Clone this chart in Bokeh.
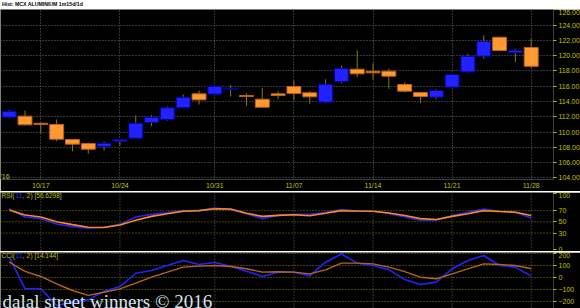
from bokeh.plotting import figure
from bokeh.layouts import column
from bokeh.models import FixedTicker, Label, Span, Range1d, NumeralTickFormatter, ColumnDataSource, Div
from bokeh.embed import file_html
from bokeh.resources import INLINE

# ---------------- data ----------------
dates = ["10/13", "10/14", "10/17", "10/18", "10/19", "10/20", "10/21",
         "10/24", "10/25", "10/26", "10/27", "10/28", "10/30",
         "10/31", "11/01", "11/02", "11/03", "11/04",
         "11/07", "11/08", "11/09", "11/10", "11/11",
         "11/14", "11/15", "11/16", "11/17", "11/18",
         "11/21", "11/22", "11/23", "11/24", "11/25", "11/28"]
opens = [111.95, 112.08, 111.15, 111.00, 109.03, 108.50, 108.12, 108.80, 109.20, 111.25,
         111.65, 113.18, 115.00, 114.95, 115.57, 114.78, 114.30, 115.00, 115.96, 115.14,
         113.91, 116.61, 118.22, 117.96, 117.96, 116.22, 115.18, 114.56, 115.87, 117.87,
         119.92, 122.40, 120.37, 121.06]
highs = [112.90, 112.80, 111.20, 111.65, 109.05, 108.64, 108.77, 109.05, 112.17, 112.20,
         113.35, 114.92, 115.44, 116.05, 116.09, 115.08, 115.74, 115.35, 116.75, 115.35,
         116.90, 118.70, 120.67, 119.00, 118.31, 116.48, 115.25, 115.60, 117.60, 120.23,
         122.63, 122.45, 120.89, 122.20]
lows = [111.80, 110.90, 109.80, 108.80, 107.50, 107.16, 107.60, 108.25, 109.20, 110.77,
        111.50, 113.18, 113.60, 114.90, 114.65, 113.44, 113.20, 114.30, 114.22, 113.70,
        113.78, 116.40, 117.18, 116.84, 115.66, 115.20, 113.78, 114.30, 115.80, 117.80,
        119.58, 120.67, 119.14, 118.35]
closes = [112.73, 110.95, 111.00, 109.07, 108.42, 107.76, 108.55, 109.03, 111.16, 111.95,
          113.18, 114.56, 114.22, 116.00, 115.70, 114.65, 113.25, 114.78, 115.05, 114.61,
          116.26, 118.31, 117.62, 117.75, 117.31, 115.35, 114.65, 115.44, 117.53, 119.92,
          121.84, 120.67, 120.67, 118.60]
rsi_fast = [72.8, 58.5, 55.7, 46.0, 41.4, 38.5, 40.3, 45.4, 58.5, 63.2, 66.6, 70.0,
            70.0, 74.6, 71.7, 64.3, 55.7, 61.4, 63.2, 63.2, 67.1, 71.7, 69.4, 68.9,
            65.0, 58.5, 52.9, 52.9, 61.4, 67.1, 72.8, 68.9, 67.1, 56.6]
rsi_slow = [71.1, 62.0, 58.5, 50.0, 44.9, 40.3, 39.7, 44.3, 52.9, 59.7, 64.3, 68.9,
            70.0, 73.4, 72.8, 65.4, 59.7, 61.4, 62.6, 60.9, 65.4, 70.0, 69.4, 68.9,
            65.7, 61.2, 55.7, 54.0, 59.7, 64.3, 70.0, 68.3, 67.1, 61.4]
cci_fast = [172, -91, -91, -231, -203, -184, -112, -73, 38, 61, 103, 144,
            111, 127, 97, 55, 11, 47, 47, 16, 130, 199, 122, 103,
            68, -15, -56, -36, 75, 144, 186, 103, 89, 14.1]
cci_slow = [130, 53, 11, -50, -106, -147, -120, -92, -45, 5, 47, 89,
            97, 103, 94, 75, 47, 50, 47, 33, 66, 122, 122, 116,
            89, 51, 5, -8, 33, 75, 116, 111, 103, 75]

date_ticks = ["10/17", "10/24", "10/31", "11/07", "11/14", "11/21", "11/28"]
price_ticks = [104, 106, 108, 110, 112, 114, 116, 118, 120, 122, 124, 126]
rsi_ticks = [0, 30, 50, 70, 100]
rsi_levels = [30, 50, 70]
cci_ticks = [-200, -100, 0, 100, 200]

title_text = "Hist: MCX ALUMINIUM 1m15d/1d"
rsi_params = ("11", "2")
rsi_last = "56.6298"
cci_last = "14.144"
last_price = "118.60"
watermark = "dalal street winners \u00a9 2016"

# ---------------- style ----------------
FW = 553
BLUE = "#2222ff"
ORANGE = "#ff9933"
WICK = "#808000"
YEL = "#c0c000"
GRID = "#6a6a6a"
LVL = "#858500"
FONT = "Liberation Sans"

xs = list(range(len(dates)))
tick_idx = [dates.index(d) for d in date_ticks]
xr = Range1d(-0.55, 34.41)

def style_right_axis(f, ticks, fmt=None):
    ax = f.yaxis[0]
    ax.ticker = FixedTicker(ticks=ticks)
    if fmt:
        ax.formatter = NumeralTickFormatter(format=fmt)
    ax.axis_line_color = None
    ax.major_tick_out = 3
    ax.major_tick_in = 0
    ax.minor_tick_line_color = None
    ax.major_tick_line_color = YEL
    ax.major_label_text_color = YEL
    ax.major_label_text_font_size = "7px"
    ax.major_label_text_font = FONT
    ax.major_label_standoff = 2

def make_fig(h, yr, xaxis=False):
    f = figure(frame_width=FW, frame_height=h, x_range=xr, y_range=yr, title=None,
               y_axis_location="right", x_axis_location="below" if xaxis else None,
               toolbar_location=None, output_backend="svg",
               background_fill_color="black", border_fill_color="black",
               outline_line_color=None, min_border=0, min_border_right=27)
    return f

def vlines(f):
    f.xgrid.grid_line_color = None
    for t in tick_idx:
        f.add_layout(Span(location=t, dimension="height", line_color=GRID,
                          line_dash="1 2", line_width=1))

def strip(h, color):
    s = figure(width=580, height=h, toolbar_location=None, output_backend="svg", title=None,
               x_axis_location=None, y_axis_location=None, min_border=0,
               background_fill_color=color, border_fill_color=color,
               outline_line_color=None, x_range=(0, 1), y_range=(0, 1))
    s.grid.grid_line_color = None
    s.quad(left=[0], right=[1], bottom=[0], top=[1], fill_color=color, line_color=None)
    return s

# ---------------- title bar ----------------
tf = Div(text=title_text, width=580, height=8,
         styles={"background-color": "white", "color": "black", "font-size": "5.2px",
                 "line-height": "8px", "font-family": FONT, "font-weight": "bold",
                 "text-indent": "2px", "overflow": "hidden", "white-space": "nowrap",
                 "margin": "0", "padding": "0"})

# ---------------- price panel ----------------
p = make_fig(170, Range1d(103.8, 126.03), xaxis=True)
style_right_axis(p, price_ticks, "0.00")
xa = p.xaxis[0]
xa.ticker = FixedTicker(ticks=tick_idx)
xa.major_label_overrides = {i: d for i, d in zip(tick_idx, date_ticks)}
xa.axis_line_color = None
xa.major_tick_out = 0
xa.major_tick_in = 0
xa.major_tick_line_color = None
xa.minor_tick_line_color = None
xa.major_label_text_color = YEL
xa.major_label_text_font_size = "7px"
xa.major_label_text_font = FONT
xa.major_label_standoff = 2
p.xgrid.grid_line_color = GRID
p.xgrid.grid_line_dash = "1 2"
p.ygrid.grid_line_color = GRID
p.ygrid.grid_line_dash = "1 2"

up = [c >= o for o, c in zip(opens, closes)]
src = ColumnDataSource(dict(
    x=xs, o=opens, h=highs, l=lows, c=closes,
    top=[max(o, c) for o, c in zip(opens, closes)],
    bot=[min(o, c) for o, c in zip(opens, closes)],
    fill=[BLUE if u else ORANGE for u in up],
    line=["#0000a0" if u else "#c06010" for u in up],
))
p.segment(x0="x", y0="l", x1="x", y1="h", source=src, line_color=WICK, line_width=1)
p.vbar(x="x", width=0.88, top="top", bottom="bot", source=src,
       fill_color="fill", line_color="line", line_width=1)
p.add_layout(Label(x=0, y=104.2, x_units="screen", y_units="data", text="'16",
                   text_font_size="7px", text_font=FONT, text_color=YEL,
                   text_baseline="middle"))
p.add_layout(Label(x=FW, y=closes[-1], x_units="screen", y_units="data", text=last_price,
                   text_font_size="7px", text_font=FONT, text_color="black",
                   text_baseline="middle", background_fill_color="#ffff00",
                   x_offset=1, padding=1))

# ---------------- RSI panel ----------------
r = make_fig(59, Range1d(-3, 102.3))
style_right_axis(r, rsi_ticks)
r.ygrid.grid_line_color = None
vlines(r)
for lv in rsi_levels:
    r.add_layout(Span(location=lv, dimension="width", line_color=LVL,
                      line_dash="1 2", line_width=1))
r.line(xs, rsi_fast, line_color=BLUE, line_width=1.6)
r.line(xs, rsi_slow, line_color="#ff8c1a", line_width=1.6)
rsi_parts = [("RSI(", YEL, 1), (rsi_params[0], "#3030ff", 15), (", ", YEL, 22),
             (rsi_params[1], "#ff9933", 26), (") [" + rsi_last + "]", YEL, 30)]
for txt, col, xo in rsi_parts:
    r.add_layout(Label(x=xo, y=97, x_units="screen", y_units="data", text=txt,
                       text_font_size="6.5px", text_font=FONT, text_color=col,
                       text_baseline="middle"))
r.add_layout(Label(x=FW, y=rsi_fast[-1], x_units="screen", y_units="data", text=rsi_last,
                   text_font_size="7px", text_font=FONT, text_color="black",
                   text_baseline="middle", background_fill_color="#ffff00",
                   x_offset=1, padding=1))

# ---------------- CCI panel ----------------
q = make_fig(56, Range1d(-256, 211))
style_right_axis(q, cci_ticks)
q.ygrid.grid_line_color = LVL
q.ygrid.grid_line_dash = "1 2"
vlines(q)
q.line(xs, cci_fast, line_color=BLUE, line_width=1.6)
q.line(xs, cci_slow, line_color="#b8641e", line_width=1.4)
cci_parts = [("CCI(", YEL, 1), (rsi_params[0], "#3030ff", 15), (", ", YEL, 22),
             (rsi_params[1], "#ff9933", 26), (") [" + cci_last + "]", YEL, 30)]
for txt, col, xo in cci_parts:
    q.add_layout(Label(x=xo, y=190, x_units="screen", y_units="data", text=txt,
                       text_font_size="6.5px", text_font=FONT, text_color=col,
                       text_baseline="middle"))
q.add_layout(Label(x=FW, y=cci_fast[-1], x_units="screen", y_units="data", text=cci_last,
                   text_font_size="7px", text_font=FONT, text_color="black",
                   text_baseline="middle", background_fill_color="#ffff00",
                   x_offset=1, padding=1))
q.add_layout(Label(x=2, y=7, x_units="screen", y_units="screen", text=watermark,
                   text_font_size="19px", text_font="Liberation Serif",
                   text_color="#d8e2ee", text_baseline="alphabetic"))

layout = column(tf, strip(1, "#a0a0a0"), p, strip(1, "#f4f4d8"), r, strip(1, "#dcdcdc"), q,
                spacing=0)
open("out.html", "w").write(file_html(layout, INLINE))
